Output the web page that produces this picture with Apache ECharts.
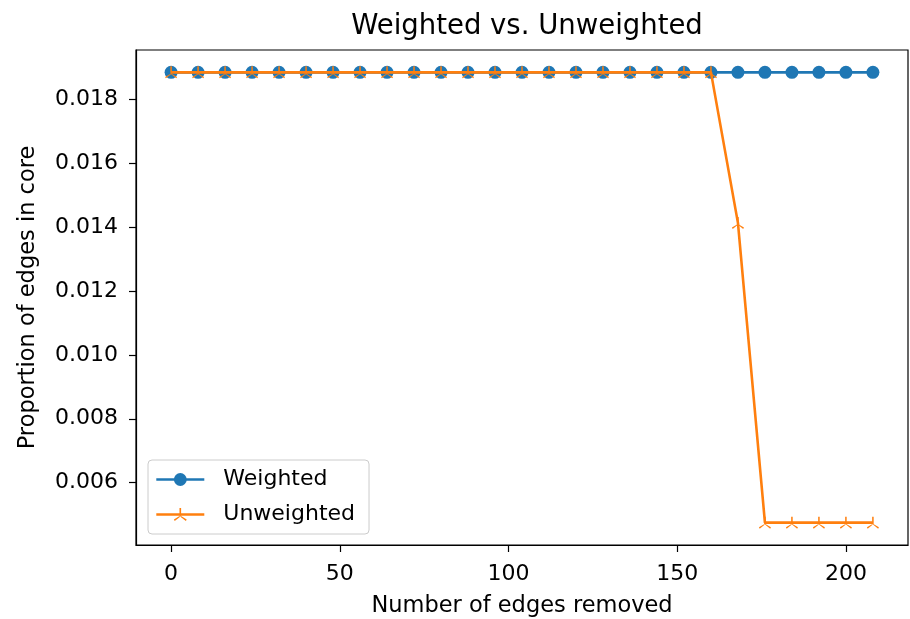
<!DOCTYPE html>
<html>
<head>
<meta charset="utf-8">
<script src="https://cdn.jsdelivr.net/npm/echarts@6/dist/echarts.min.js"></script>
<style>
  html, body { margin: 0; padding: 0; background: #fff; }
  #chart { width: 910px; height: 619px; }
</style>
</head>
<body>
<div id="chart"></div>
<script>
  // edges removed (x) and proportion of edges in core (y)
  var edgesRemoved = [0, 8, 16, 24, 32, 40, 48, 56, 64, 72, 80, 88, 96, 104, 112, 120, 128, 136, 144, 152, 160, 168, 176, 184, 192, 200, 208];
  var weighted = [0.01884, 0.01884, 0.01884, 0.01884, 0.01884, 0.01884, 0.01884, 0.01884, 0.01884, 0.01884, 0.01884, 0.01884, 0.01884, 0.01884,
                  0.01884, 0.01884, 0.01884, 0.01884, 0.01884, 0.01884, 0.01884, 0.01884, 0.01884, 0.01884, 0.01884, 0.01884, 0.01884];
  var unweighted = [0.01884, 0.01884, 0.01884, 0.01884, 0.01884, 0.01884, 0.01884, 0.01884, 0.01884, 0.01884, 0.01884, 0.01884, 0.01884, 0.01884,
                    0.01884, 0.01884, 0.01884, 0.01884, 0.01884, 0.01884, 0.01884, 0.01413, 0.00475, 0.00475, 0.00475, 0.00475, 0.00475];
  var xTicks = [0, 50, 100, 150, 200];
  var yTicks = [0.006, 0.008, 0.010, 0.012, 0.014, 0.016, 0.018];

  var font = 'DejaVu Sans';
  // matplotlib tri_up marker: spokes up, down-left, down-right
  var triUp = 'path://M-1.1,0 L-1.1,-10 L1.1,-10 L1.1,0 Z M-0.55,-0.95 L8.66,4.05 L7.56,5.95 L0.55,0.95 Z M0.55,-0.95 L-8.66,4.05 L-7.56,5.95 L-0.55,0.95 Z';

  function pairs(xs, ys) {
    return xs.map(function (x, i) { return [x, ys[i]]; });
  }

  var chart = echarts.init(document.getElementById('chart'));
  var option = {
    animation: false,
    backgroundColor: '#fff',
    title: {
      text: 'Weighted vs. Unweighted',
      left: 522, top: 8, textAlign: 'center',
      textStyle: { fontFamily: font, fontSize: 27.5, fontWeight: 'normal', color: '#000' }
    },
    grid: {
      left: 136, right: 2, top: 50, bottom: 74,
      outerBoundsMode: 'none', containLabel: false,
      show: true, borderColor: '#000', borderWidth: 1.2, backgroundColor: 'transparent'
    },
    legend: {
      orient: 'vertical',
      left: 148, top: 460,
      padding: [8, 14, 8, 7],
      itemWidth: 48, itemHeight: 16, itemGap: 12,
      borderColor: '#ccc', borderWidth: 1, borderRadius: 4,
      lineStyle: { width: 2.6 },
      textStyle: { fontFamily: font, fontSize: 22, color: '#000', lineHeight: 23, padding: [0, 0, 0, 14] },
      data: ['Weighted', 'Unweighted']
    },
    xAxis: {
      type: 'value',
      min: -10.4, max: 218.4,
      name: 'Number of edges removed',
      nameLocation: 'middle', nameGap: 50,
      nameTextStyle: { fontFamily: font, fontSize: 22.5, color: '#000' },
      axisLine: { show: true, onZero: false, lineStyle: { color: '#000', width: 1.2 } },
      axisTick: { show: true, length: 7, lineStyle: { color: '#000', width: 1.2 }, customValues: xTicks },
      axisLabel: { fontFamily: font, fontSize: 22, color: '#000', margin: 18, customValues: xTicks },
      splitLine: { show: false }
    },
    yAxis: {
      type: 'value',
      min: 0.00405, max: 0.01954,
      name: 'Proportion of edges in core',
      nameLocation: 'middle', nameGap: 96,
      nameTextStyle: { fontFamily: font, fontSize: 22.5, color: '#000' },
      axisLine: { show: true, onZero: false, lineStyle: { color: '#000', width: 1.2 } },
      axisTick: { show: true, length: 7, lineStyle: { color: '#000', width: 1.2 }, customValues: yTicks },
      axisLabel: {
        fontFamily: font, fontSize: 22, color: '#000', margin: 18, customValues: yTicks,
        formatter: function (v) { return v.toFixed(3); }
      },
      splitLine: { show: false }
    },
    series: [
      {
        name: 'Weighted',
        type: 'line',
        data: pairs(edgesRemoved, weighted),
        color: '#1f77b4',
        symbol: 'circle', symbolSize: 13,
        showAllSymbol: true,
        lineStyle: { width: 2.6, color: '#1f77b4' },
        itemStyle: { color: '#1f77b4' },
        z: 2
      },
      {
        name: 'Unweighted',
        type: 'line',
        data: pairs(edgesRemoved, unweighted),
        color: '#ff7f0e',
        symbol: triUp, symbolSize: 12,
        showAllSymbol: true,
        lineStyle: { width: 2.6, color: '#ff7f0e' },
        itemStyle: { color: '#ff7f0e' },
        z: 3
      }
    ]
  };
  chart.setOption(option);
</script>
</body>
</html>
